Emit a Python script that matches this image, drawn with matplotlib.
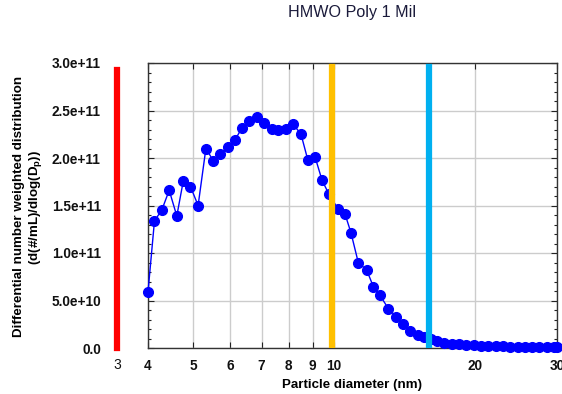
import numpy as np
import matplotlib
matplotlib.use("Agg")
import matplotlib.pyplot as plt
from matplotlib.ticker import FixedLocator, NullFormatter, MultipleLocator

plt.rcParams["font.family"] = ["Liberation Sans", "DejaVu Sans"]

# particle diameter (nm) and distribution (#/mL per dlogDp)
diameter = [4.00, 4.13, 4.28, 4.44, 4.61, 4.76, 4.93, 5.12, 5.32, 5.52,
            5.71, 5.92, 6.14, 6.36, 6.59, 6.83, 7.09, 7.36, 7.60, 7.88,
            8.18, 8.50, 8.79, 9.11, 9.43, 9.74, 10.21, 10.55, 10.87, 11.27,
            11.75, 12.14, 12.54, 13.07, 13.57, 14.07, 14.54, 15.10, 15.60, 16.10,
            16.6, 17.2, 17.85, 18.5, 19.2, 19.9, 20.6, 21.4, 22.2, 23.0,
            23.8, 24.7, 25.6, 26.5, 27.5, 28.5, 29.5, 30.0]
counts = [0.59, 1.34, 1.45, 1.66, 1.39, 1.76, 1.70, 1.50, 2.10, 1.97,
          2.04, 2.12, 2.19, 2.32, 2.385, 2.43, 2.37, 2.31, 2.29, 2.31,
          2.355, 2.25, 1.98, 2.01, 1.765, 1.625, 1.46, 1.415, 1.215, 0.90,
          0.82, 0.645, 0.555, 0.415, 0.33, 0.25, 0.18, 0.137, 0.118, 0.09,
          0.07, 0.055, 0.045, 0.038, 0.032, 0.027, 0.023, 0.02, 0.018, 0.016,
          0.014, 0.013, 0.012, 0.011, 0.01, 0.009, 0.008, 0.008]
counts = [c * 1e11 for c in counts]

xticks = [4, 5, 6, 7, 8, 9, 10, 20, 30]
yticks = [0, 0.5e11, 1.0e11, 1.5e11, 2.0e11, 2.5e11, 3.0e11]

# vertical marker lines
red_pos = 3.43
orange_pos = 9.9
blue_pos = 16.0

fig = plt.figure(figsize=(5.62, 3.94), dpi=100)
ax = fig.add_axes([148 / 562, 46 / 394, 409 / 562, 285 / 394])

ax.set_xscale("log")
ax.set_xlim(4, 30)
ax.set_ylim(0, 3e11)

ax.xaxis.set_major_locator(FixedLocator(xticks))
ax.xaxis.set_minor_locator(FixedLocator([]))
ax.xaxis.set_minor_formatter(NullFormatter())
ax.set_xticklabels([str(t) for t in xticks])
ax.yaxis.set_major_locator(FixedLocator(yticks))
ax.yaxis.set_minor_locator(MultipleLocator(1e10))
ax.set_yticklabels(["0.0"] + ["%.1fe+%d" % (v / 10 ** int(np.floor(np.log10(v))), int(np.floor(np.log10(v)))) for v in yticks[1:]])

ax.grid(True, which="major", color="#cccccc", linewidth=1.0)
ax.set_axisbelow(True)

ax.tick_params(axis="both", which="both", direction="in", top=True, right=True,
               colors="#222222", labelcolor="#111111")
ax.tick_params(axis="both", which="major", length=4, width=0.8)
ax.tick_params(axis="y", which="minor", length=2.5, width=0.8)
ax.tick_params(axis="y", which="major", pad=34, labelsize=9.8)
ax.tick_params(axis="x", which="major", pad=8, labelsize=9.8)
for lab in ax.get_xticklabels() + ax.get_yticklabels():
    lab.set_fontweight("bold")
for sp in ax.spines.values():
    sp.set_color("#333333")
    sp.set_linewidth(1.0)

ax.plot(diameter, counts, "-o", color="#0000ff", linewidth=1.0,
        markersize=7, zorder=3, clip_on=False)

ax.plot([orange_pos, orange_pos], [0, 2.96e11], color="#ffc000", linewidth=4.5, zorder=4)
ax.plot([blue_pos, blue_pos], [0, 2.96e11], color="#00b0f0", linewidth=4.5, zorder=4)
ax.plot([red_pos, red_pos], [0, 2.93e11], color="#ff0000", linewidth=4.5,
        zorder=4, clip_on=False)
ax.text(red_pos, -0.035, "3", transform=ax.get_xaxis_transform(), ha="center",
        va="top", fontsize=10, color="#111111")

ax.set_xlabel("Particle diameter (nm)", fontsize=9.6, fontweight="bold", labelpad=4)
ax.set_ylabel("Differential number weighted distribution\n(d(#/mL)/dlog(D$_\\mathregular{p}$))",
              fontsize=9.6, fontweight="bold", linespacing=1.2)
ax.yaxis.set_label_coords(-0.255, 0.495)

fig.text(0.627, 0.968, "HMWO Poly 1 Mil", ha="center", va="center",
         fontsize=11.6, color="#1a1a3a")

fig.savefig("out.png", dpi=100)
